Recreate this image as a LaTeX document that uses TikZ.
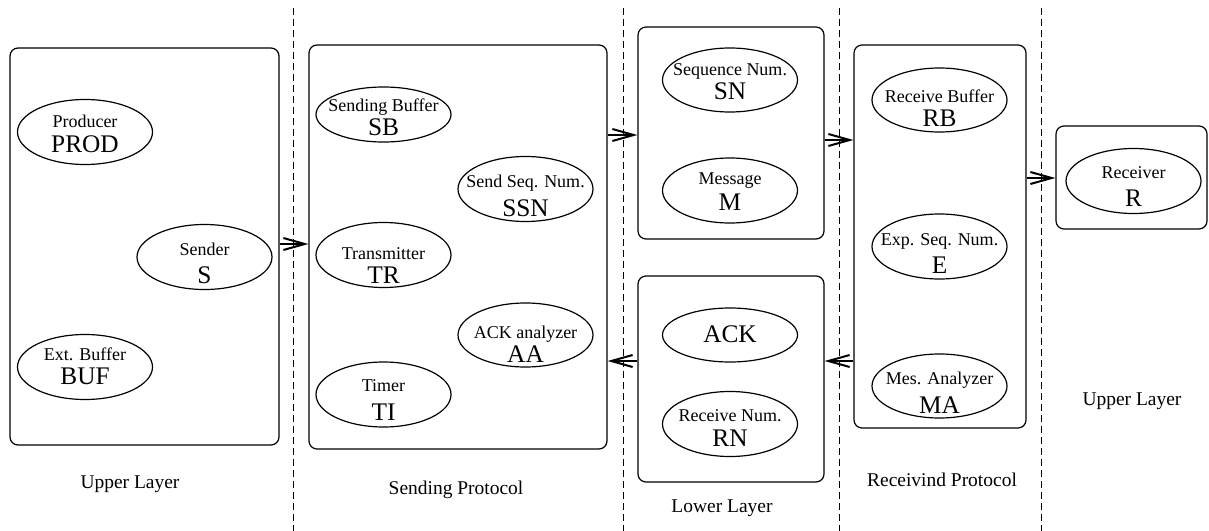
\documentclass[tikz,border=0pt]{standalone}
\usepackage{fontspec}
\setmainfont{Liberation Serif}
\usetikzlibrary{arrows.meta,shapes.geometric}
\newcommand\compell[8]{%
  \node[compshape, minimum height=#4*0.75pt] (#1) at (#2,#3) {};
  \node[smalltxt] (#1-s) at (#2,#6) {#5};
  \node[bigtxt] (#1-b) at (#2,#8) {#7};
}
\begin{document}
\begin{tikzpicture}[x=0.75pt,y=-0.75pt,
  box/.style={draw, line width=0.9pt, rounded corners=6pt, rectangle, inner sep=0pt},
  compshape/.style={draw, line width=0.9pt, ellipse, minimum width=101.25pt, inner sep=0pt},
  smalltxt/.style={anchor=base, inner sep=0pt, font=\fontsize{13.5}{15}\selectfont},
  bigtxt/.style={anchor=base, inner sep=0pt, font=\fontsize{19}{21}\selectfont},
  layerlbl/.style={anchor=base, inner sep=0pt, font=\fontsize{14.6}{17}\selectfont},
  sep/.style={line width=0.75pt, dash pattern=on 5.25pt off 3pt},
  arr/.style={line width=1.5pt, -{Straight Barb[length=16pt,width=9pt,line width=1.5pt]}}
]
\useasboundingbox (0,0) rectangle (1209,531);

% separators
\foreach \xx/\nm in {293/d1,623/d2,839/d3,1041/d4}{
  \coordinate (\nm-t) at (\xx,8);
  \coordinate (\nm-b) at (\xx,531);
  \draw[sep] (\nm-t) -- (\nm-b);
}

% boxes
\node[box, minimum width=269*0.75pt, minimum height=397*0.75pt] (box1) at (144.5,246.5) {};
\node[box, minimum width=298*0.75pt, minimum height=404*0.75pt] (box2) at (458,247) {};
\node[box, minimum width=186*0.75pt, minimum height=212*0.75pt] (box3a) at (731,133) {};
\node[box, minimum width=186*0.75pt, minimum height=206*0.75pt] (box3b) at (731,379) {};
\node[box, minimum width=172*0.75pt, minimum height=383*0.75pt] (box4) at (940,236.5) {};
\node[box, minimum width=151*0.75pt, minimum height=103*0.75pt] (box5) at (1131.5,177.5) {};

% components
\compell{prod}{85}{132}{65}{Producer}{128}{PROD}{152}
\compell{snd}{204.5}{257}{65}{Sender}{255}{S}{283}
\compell{buf}{85}{367}{65}{Ext. Buffer}{360}{BUF}{384}
\compell{sb}{383.5}{114.5}{55}{Sending Buffer}{112}{SB}{136}
\compell{ssn}{525.5}{189}{65}{Send Seq. Num.}{187}{SSN}{216}
\compell{tr}{383.5}{255}{65}{Transmitter}{259}{TR}{283}
\compell{aa}{525.5}{335}{64}{ACK analyzer}{338}{AA}{362}
\compell{ti}{383.5}{394.5}{65}{Timer}{391}{TI}{420}
\compell{sn}{730}{80}{64}{Sequence Num.}{76}{SN}{100}
\compell{msg}{730}{190.5}{65}{Message}{185}{M}{210}
\node[compshape, minimum height=54*0.75pt] (ack) at (730,335) {};
\node[bigtxt] (ack-b) at (730,342) {ACK};
\compell{rn}{730}{424}{65}{Receive Num.}{421}{RN}{446}
\compell{rb}{939.5}{100}{64}{Receive Buffer}{103}{RB}{127}
\compell{exp}{939.5}{246.5}{65}{Exp. Seq. Num.}{245}{E}{273}
\compell{ma}{939.5}{386}{64}{Mes. Analyzer}{384}{MA}{413}
\compell{rcv}{1133.5}{181}{65}{Receiver}{178}{R}{206}

% arrow levels
\coordinate (ya) at (0,244);
\coordinate (yb) at (0,135);
\coordinate (yc) at (0,361);
\coordinate (yd) at (0,140);
\coordinate (ye) at (0,178);

\draw[arr] (box1.east |- ya) -- (box2.west |- ya);
\draw[arr] (box2.east |- yb) -- (box3a.west |- yb);
\draw[arr] (box3b.west |- yc) -- (box2.east |- yc);
\draw[arr] (box3a.east |- yd) -- (box4.west |- yd);
\draw[arr] (box4.west |- yc) -- (box3b.east |- yc);
\draw[arr] (box4.east |- ye) -- (box5.west |- ye);

% layer labels
\node[layerlbl] (l1) at (130,488) {Upper Layer};
\node[layerlbl] (l2) at (456,494) {Sending Protocol};
\node[layerlbl] (l3) at (722,512) {Lower Layer};
\node[layerlbl] (l4) at (942,486) {Receivind Protocol};
\node[layerlbl] (l5) at (1132,405) {Upper Layer};
\end{tikzpicture}
\end{document}
